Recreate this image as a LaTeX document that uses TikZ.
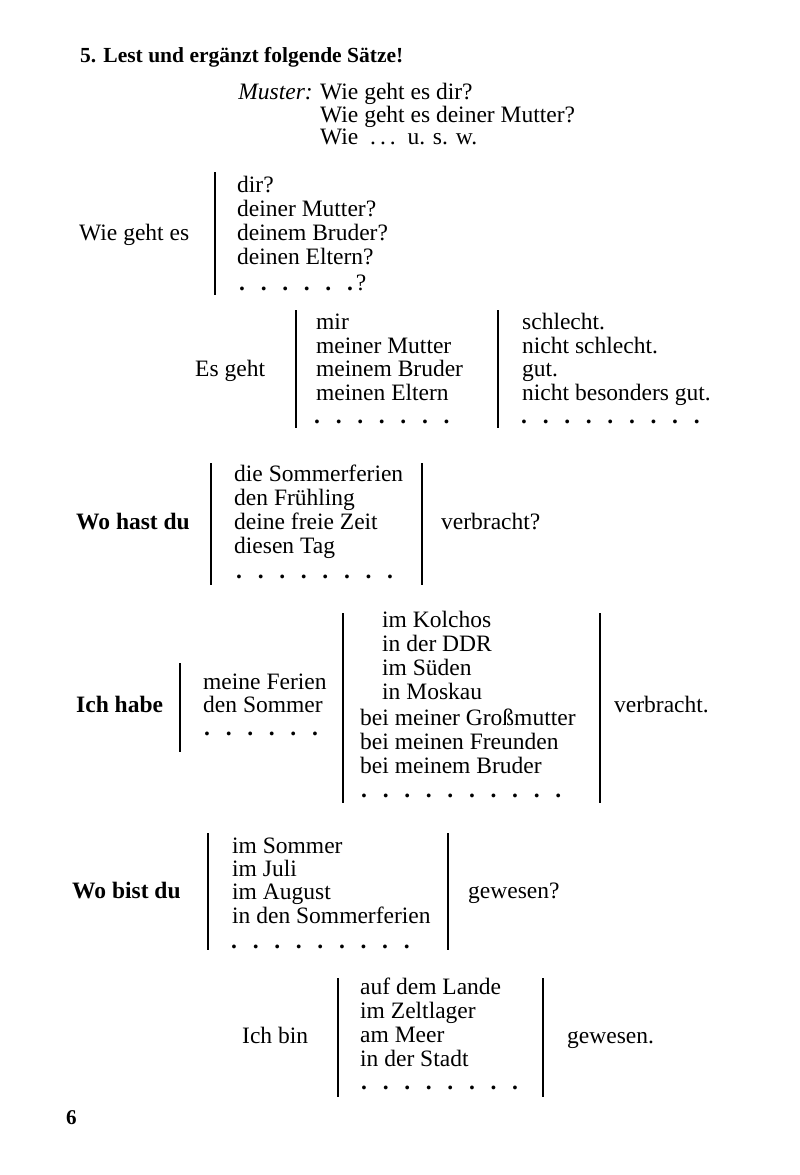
\documentclass[tikz,border=0pt]{standalone}
\usepackage{fontspec}
\setmainfont{Liberation Serif}
\newcommand\fs{\fontsize{23.5}{24}\selectfont}
\newcommand\dd{{\bfseries .}\hspace{15.7pt}}
\newcommand\ld{{\bfseries .}}
\begin{document}
\begin{tikzpicture}[x=1pt,y=-1pt,
  t/.style={anchor=base west,inner sep=0pt,font=\fs},
  tb/.style={anchor=base west,inner sep=0pt,font=\fs\bfseries},
  bar/.style={line width=2pt}]
\useasboundingbox (0,0) rectangle (800,1175);
% title
\node[anchor=base west,inner sep=0pt,font=\fontsize{21.5}{24}\selectfont\bfseries] (title) at (80,62) {5. Lest und ergänzt folgende Sätze!};
\node[anchor=base east,inner sep=0pt,font=\fs\itshape] (muster) at (313,99) {Muster:};
\node[t] (m1) at (320,99) {Wie geht es dir?};
\node[t] (m2) at (320,122) {Wie geht es deiner Mutter?};
\node[t] (m3) at (320,144) {Wie\ \ .\hspace{4pt}.\hspace{4pt}.\ \ u. s. w.};
% block 1
\node[t] (wge) at (79,240) {Wie geht es};
\draw[bar] (215,172) -- (215,295);
\node[t] (b1a) at (237,192) {dir?};
\node[t] (b1b) at (237,216) {deiner Mutter?};
\node[t] (b1c) at (237,240) {deinem Bruder?};
\node[t] (b1d) at (237,264) {deinen Eltern?};
\node[t] (b1e) at (239,290) {\dd\dd\dd\dd\dd\ld\hspace{3pt}?};
% block 2
\node[t] (eg) at (195,376) {Es geht};
\draw[bar] (296,310) -- (296,428);
\draw[bar] (498,310) -- (498,428);
\node[t] (b2a) at (316,329) {mir};
\node[t] (b2b) at (316,353) {meiner Mutter};
\node[t] (b2c) at (316,376) {meinem Bruder};
\node[t] (b2d) at (316,400) {meinen Eltern};
\node[t] (b2e) at (314,423) {\dd\dd\dd\dd\dd\dd\ld};
\node[t] (b2f) at (522,329) {schlecht.};
\node[t] (b2g) at (522,353) {nicht schlecht.};
\node[t] (b2h) at (522,376) {gut.};
\node[t] (b2i) at (522,400) {nicht besonders gut.};
\node[t] (b2j) at (521,423) {\dd\dd\dd\dd\dd\dd\dd\dd\ld};
% block 3
\node[tb] (whd) at (76,529) {Wo hast du};
\draw[bar] (211,463) -- (211,585);
\draw[bar] (422,463) -- (422,585);
\node[t] (b3a) at (234,481) {die Sommerferien};
\node[t] (b3b) at (234,505) {den Frühling};
\node[t] (b3c) at (234,529) {deine freie Zeit};
\node[t] (b3d) at (234,553) {diesen Tag};
\node[t] (b3e) at (236,578) {\dd\dd\dd\dd\dd\dd\dd\ld};
\node[t] (b3f) at (441,529) {verbracht?};
% block 4
\node[tb] (ih) at (76,712) {Ich habe};
\draw[bar] (180,663) -- (180,752);
\node[t] (b4a) at (203,689) {meine Ferien};
\node[t] (b4b) at (203,712) {den Sommer};
\node[t] (b4c) at (204,735) {\dd\dd\dd\dd\dd\ld};
\draw[bar] (343,613) -- (343,803);
\draw[bar] (600,613) -- (600,803);
\node[t] (b4d) at (382,627) {im Kolchos};
\node[t] (b4e) at (382,651) {in der DDR};
\node[t] (b4f) at (382,675) {im Süden};
\node[t] (b4g) at (382,699) {in Moskau};
\node[t] (b4h) at (360,725) {bei meiner Großmutter};
\node[t] (b4i) at (360,749) {bei meinen Freunden};
\node[t] (b4j) at (360,773) {bei meinem Bruder};
\node[t] (b4k) at (361,797) {\dd\dd\dd\dd\dd\dd\dd\dd\dd\ld};
\node[t] (b4l) at (614,712) {verbracht.};
% block 5
\node[tb] (wbd) at (72,898) {Wo bist du};
\draw[bar] (208,833) -- (208,950);
\draw[bar] (448,833) -- (448,950);
\node[t] (b5a) at (232,853) {im Sommer};
\node[t] (b5b) at (232,876) {im Juli};
\node[t] (b5c) at (232,899) {im August};
\node[t] (b5d) at (232,923) {in den Sommerferien};
\node[t] (b5e) at (231,948) {\dd\dd\dd\dd\dd\dd\dd\dd\ld};
\node[t] (b5f) at (468,898) {gewesen?};
% block 6
\node[t] (ib) at (242,1043) {Ich bin};
\draw[bar] (338,978) -- (338,1097);
\draw[bar] (543,978) -- (543,1097);
\node[t] (b6a) at (360,994) {auf dem Lande};
\node[t] (b6b) at (360,1018) {im Zeltlager};
\node[t] (b6c) at (360,1042) {am Meer};
\node[t] (b6d) at (360,1066) {in der Stadt};
\node[t] (b6e) at (361,1089) {\dd\dd\dd\dd\dd\dd\dd\ld};
\node[t] (b6f) at (567,1043) {gewesen.};
% page number
\node[anchor=base west,inner sep=0pt,font=\fontsize{21}{24}\selectfont\bfseries] (pg) at (66,1124) {6};
\end{tikzpicture}
\end{document}
